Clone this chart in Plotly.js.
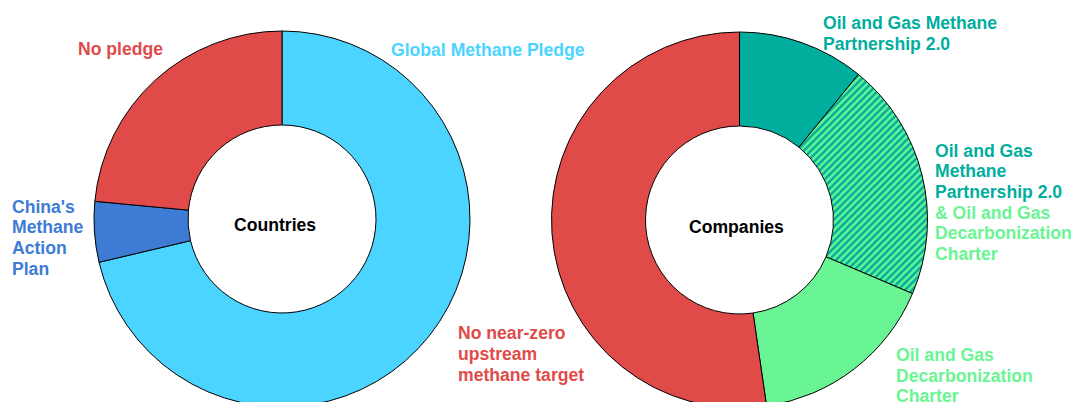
<!DOCTYPE html>
<html>
<head>
<meta charset="utf-8">
<script src="https://cdn.plot.ly/plotly-3.0.1.min.js"></script>
<style>
  html, body { margin: 0; padding: 0; overflow: hidden; background: #fff; }
  #chart { width: 1074px; height: 420px; }
</style>
</head>
<body>
<div id="chart"></div>
<script>
// ---- Data ----
const countryLabels = ["Global Methane Pledge", "China's Methane Action Plan", "No pledge"];
const countryValues = [71.3, 5.2, 23.5];
const companyLabels = [
  "Oil and Gas Methane Partnership 2.0",
  "Oil and Gas Methane Partnership 2.0 & Oil and Gas Decarbonization Charter",
  "Oil and Gas Decarbonization Charter",
  "No near-zero upstream methane target"
];
const companyValues = [10.9, 20.5, 16.3, 52.3];
const centerLabels = ["Countries", "Companies"];

// Label text, split into display lines
const chinaLines = ["China's", "Methane", "Action", "Plan"];
const noTargetLines = ["No near-zero", "upstream", "methane target"];
const ogmpLines = ["Oil and Gas Methane", "Partnership 2.0"];
const bothLinesA = ["Oil and Gas", "Methane", "Partnership 2.0"];
const bothLinesB = ["& Oil and Gas", "Decarbonization", "Charter"];
const ogdcLines = ["Oil and Gas", "Decarbonization", "Charter"];

// ---- Styles ----
const RED = "#E04B4A", CYAN = "#4AD4FF", BLUE = "#3D7BD5", TEAL = "#00AE9E", GREEN = "#6AF594";
const W = 1074, H = 420;
const px = v => v / W;
const py = v => 1 - v / H;
const FONT = "Arial, 'Liberation Sans', sans-serif";
const FS = 17.6;
const LS = 20.6;

const traces = [
  {
    type: "pie", labels: countryLabels, values: countryValues,
    hole: 0.5, sort: false, direction: "clockwise", rotation: 0,
    textinfo: "none", hoverinfo: "label+value",
    marker: { colors: [CYAN, BLUE, RED], line: { color: "#000", width: 1 } },
    domain: { x: [px(94), px(470)], y: [1 - 407 / H, 1 - 31 / H] },
    showlegend: false
  },
  {
    type: "pie", labels: companyLabels, values: companyValues,
    hole: 0.5, sort: false, direction: "clockwise", rotation: 0,
    textinfo: "none", hoverinfo: "label+value",
    marker: {
      colors: [TEAL, GREEN, GREEN, RED],
      line: { color: "#000", width: 1 },
      pattern: {
        shape: ["", "/", "", ""],
        fgcolor: [TEAL, TEAL, TEAL, TEAL],
        bgcolor: [TEAL, GREEN, GREEN, RED],
        size: 5, solidity: 0.5
      }
    },
    domain: { x: [px(551.5), px(927.5)], y: [1 - 408 / H, 1 - 32 / H] },
    showlegend: false
  }
];

function ann(text, x, y, color, opts) {
  return Object.assign({
    text: "<b>" + text + "</b>", x: px(x), y: py(y), xref: "paper", yref: "paper",
    xanchor: "left", yanchor: "middle", align: "left", showarrow: false,
    font: { family: FONT, size: FS, color: color }
  }, opts || {});
}
function block(lines, x, y0, color) {
  return lines.map((t, i) => ann(t, x, y0 + i * LS, color));
}

const annotations = [].concat(
  [ann(countryLabels[2], 76, 49, RED)],
  [ann(countryLabels[0], 389, 50, CYAN)],
  block(chinaLines, 10, 206.7, BLUE),
  block(noTargetLines, 456, 333.3, RED),
  block(ogmpLines, 821, 23.3, TEAL),
  block(bothLinesA, 933, 150.7, TEAL),
  block(bothLinesB, 933, 150.7 + 3 * LS, GREEN),
  block(ogdcLines, 894, 355, GREEN),
  [ann(centerLabels[0], 275, 225, "#000", { xanchor: "center" })],
  [ann(centerLabels[1], 736, 227, "#000", { xanchor: "center" })]
);

const layout = {
  width: W, height: H,
  margin: { l: 0, r: 0, t: 0, b: 0 },
  paper_bgcolor: "#fff", plot_bgcolor: "#fff",
  font: { family: FONT },
  annotations: annotations,
  showlegend: false
};

Plotly.newPlot("chart", traces, layout, { displayModeBar: false, staticPlot: true });
</script>
</body>
</html>
